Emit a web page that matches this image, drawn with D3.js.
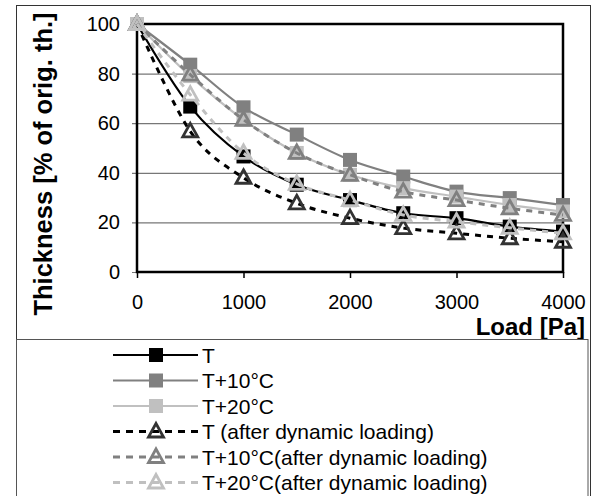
<!DOCTYPE html>
<html>
<head>
<meta charset="utf-8">
<script src="https://cdn.jsdelivr.net/npm/d3@7.9.0/dist/d3.min.js"></script>
<style>
  body { margin: 0; background: #fff; }
  svg { display: block; font-family: "Liberation Sans", Arial, sans-serif; }
</style>
</head>
<body>
<svg id="chart" width="601" height="496"></svg>
<script>
// load steps on the x axis
const loads = [0, 500, 1000, 1500, 2000, 2500, 3000, 3500, 4000];

// thickness values, % of original thickness
const tBase = [100, 66.7, 46.6, 35.2, 29, 23.7, 21.7, 18.3, 16.3];
const tPlus10 = [100, 83.6, 66.4, 55.4, 45.2, 38.5, 32.4, 29.8, 27];
const tPlus20 = [100, 79, 61.4, 48, 39.2, 33.8, 30.4, 27, 24.4];
const tBaseDyn = [100, 56.7, 38, 27.7, 21.7, 17.7, 15.6, 13.6, 12.2];
const tPlus10Dyn = [100, 79.6, 61.4, 48, 39.2, 32.4, 29, 25.7, 23];
const tPlus20Dyn = [100, 71.5, 48, 35.5, 29, 23, 20.3, 17.8, 15.6];

const xTicks = [0, 1000, 2000, 3000, 4000];
const yTicks = [0, 20, 40, 60, 80, 100];

const series = [
  { name: 'T', values: tBase, color: '#000', marker: 'square', dashed: false },
  { name: 'T+10°C', values: tPlus10, color: '#808080', marker: 'square', dashed: false },
  { name: 'T+20°C', values: tPlus20, color: '#c0c0c0', marker: 'square', dashed: false },
  { name: 'T (after dynamic loading)', values: tBaseDyn, color: '#000', markerColor: '#333', marker: 'triangle', dashed: true },
  { name: 'T+10°C(after dynamic loading)', values: tPlus10Dyn, color: '#808080', marker: 'triangle', dashed: true },
  { name: 'T+20°C(after dynamic loading)', values: tPlus20Dyn, color: '#c0c0c0', marker: 'triangle', dashed: true }
];

const svg = d3.select('#chart');
svg.append('rect').attr('width', 601).attr('height', 496).attr('fill', '#fff');

// outer chart frame
svg.append('rect')
  .attr('x', 16.5).attr('y', 5.5).attr('width', 574).attr('height', 500)
  .attr('fill', 'none').attr('stroke', '#333').attr('stroke-width', 1);

const x = d3.scaleLinear().domain([0, 4000]).range([137, 563]);
const y = d3.scaleLinear().domain([0, 100]).range([272, 24]);

// gridlines (with short ticks to the left of the axis)
svg.append('g')
  .attr('transform', 'translate(132,0)')
  .call(d3.axisLeft(y).tickValues(yTicks).tickSize(-(563 - 132)).tickFormat(''))
  .call(g => g.select('.domain').remove())
  .call(g => g.selectAll('line').attr('stroke', '#777').attr('stroke-width', 1.2));

// y tick labels
svg.append('g')
  .attr('transform', 'translate(137,0)')
  .call(d3.axisLeft(y).tickValues(yTicks).tickSize(0).tickPadding(17))
  .call(g => g.select('.domain').remove())
  .call(g => g.selectAll('text').attr('font-size', 20).attr('font-family', null).attr('fill', '#000'));

// x axis ticks + labels
svg.append('g')
  .attr('transform', 'translate(0,272)')
  .call(d3.axisBottom(x).tickValues(xTicks).tickSize(6).tickPadding(17).tickFormat(d3.format('d')))
  .call(g => g.select('.domain').remove())
  .call(g => g.selectAll('line').attr('stroke', '#000').attr('stroke-width', 1.5))
  .call(g => g.selectAll('text').attr('font-size', 20).attr('font-family', null).attr('fill', '#000'));

// plot border
svg.append('rect')
  .attr('x', x(0)).attr('y', y(100))
  .attr('width', x(4000) - x(0)).attr('height', y(0) - y(100))
  .attr('fill', 'none').attr('stroke', '#000').attr('stroke-width', 2.5);

const line = d3.line()
  .x((d, i) => x(loads[i]))
  .y(d => y(d))
  .curve(d3.curveCatmullRom.alpha(0));

const triPath = 'M0,-8L7.5,5.5L-7.5,5.5Z';

function drawMarker(g, s, px, py) {
  if (s.marker === 'square') {
    g.append('rect')
      .attr('x', px - 7).attr('y', py - 7).attr('width', 14).attr('height', 14)
      .attr('fill', s.color);
  } else {
    g.append('path')
      .attr('d', triPath)
      .attr('transform', `translate(${px},${py})`)
      .attr('fill', 'none')
      .attr('stroke', s.markerColor || s.color)
      .attr('stroke-width', 2.8)
      .attr('stroke-linejoin', 'miter');
  }
}

series.forEach(s => {
  const g = svg.append('g');
  g.append('path')
    .attr('d', line(s.values))
    .attr('fill', 'none')
    .attr('stroke', s.color)
    .attr('stroke-width', s.dashed ? 3 : 2.2)
    .attr('stroke-dasharray', s.dashed ? '6,6' : null);
  s.values.forEach((v, i) => drawMarker(g, s, x(loads[i]), y(v)));
});

// axis titles
svg.append('text')
  .attr('x', 585).attr('y', 335)
  .attr('text-anchor', 'end')
  .attr('font-size', 24).attr('font-weight', 'bold')
  .text('Load [Pa]');

svg.append('text')
  .attr('transform', 'translate(52,164) rotate(-90)')
  .attr('text-anchor', 'middle')
  .attr('font-size', 25.5).attr('font-weight', 'bold')
  .text('Thickness [% of orig. th.]');

// legend box
svg.append('rect')
  .attr('x', 16.5).attr('y', 339.5).attr('width', 571.5).attr('height', 170)
  .attr('fill', '#fff').attr('stroke', '#555').attr('stroke-width', 1);

series.forEach((s, i) => {
  const ly = 355 + i * 25.5;
  const g = svg.append('g');
  g.append('line')
    .attr('x1', 113).attr('x2', 198).attr('y1', ly).attr('y2', ly)
    .attr('stroke', s.color)
    .attr('stroke-width', s.dashed ? 3 : 2.2)
    .attr('stroke-dasharray', s.dashed ? '7,6' : null);
  drawMarker(g, s, 156, ly);
  g.append('text')
    .attr('x', 202).attr('y', ly)
    .attr('dominant-baseline', 'central')
    .attr('font-size', 21)
    .text(s.name);
});
</script>
</body>
</html>
